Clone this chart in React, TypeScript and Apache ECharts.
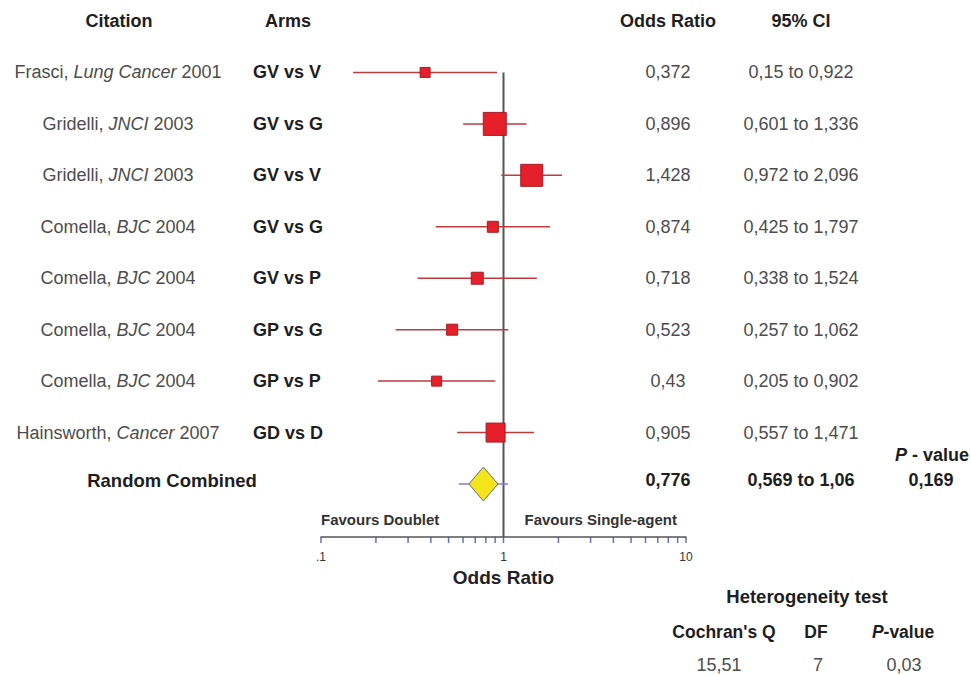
import React, { useEffect, useRef } from "react";
import * as echarts from "echarts";

// ---- data ----
const authors = ["Frasci", "Gridelli", "Gridelli", "Comella", "Comella", "Comella", "Comella", "Hainsworth"];
const journals = ["Lung Cancer", "JNCI", "JNCI", "BJC", "BJC", "BJC", "BJC", "Cancer"];
const years = ["2001", "2003", "2003", "2004", "2004", "2004", "2004", "2007"];
const arms = ["GV vs V", "GV vs G", "GV vs V", "GV vs G", "GV vs P", "GP vs G", "GP vs P", "GD vs D"];
const oddsRatios = [0.372, 0.896, 1.428, 0.874, 0.718, 0.523, 0.43, 0.905];
const ciLower = [0.15, 0.601, 0.972, 0.425, 0.338, 0.257, 0.205, 0.557];
const ciUpper = [0.922, 1.336, 2.096, 1.797, 1.524, 1.062, 0.902, 1.471];
const studyWeights = [10, 23, 22, 11, 12, 11, 10, 19];

const combinedLabel = "Random Combined";
const combinedOR = [0.776];
const combinedLower = [0.569];
const combinedUpper = [1.06];
const combinedP = [0.169];

const axisTickValues = [0.1, 0.2, 0.3, 0.4, 0.5, 0.6, 0.7, 0.8, 0.9, 1, 2, 3, 4, 5, 6, 7, 8, 9, 10];

const hetHeaders = ["Cochran's Q", "DF", "P-value"];
const hetValues = [15.51, 7, 0.03];

// ---- layout ----
const FONT = "'Liberation Sans', Arial, sans-serif";
const Y_MAX = 9.03;
const COL_CIT = 118;
const COL_ARMS = 253;
const COL_OR = 668;
const COL_CI = 801;
const COL_P = 931;
const GRAY = "#4d4d4d";
const DARK = "#1e1e1e";

const fmt = (v: number) => String(v).replace(".", ",");

export default function App() {
  const ref = useRef<HTMLDivElement>(null);

  useEffect(() => {
    if (!ref.current) return;
    const chart = echarts.init(ref.current, null, { renderer: "svg" });

    const studyData = oddsRatios.map((or, i) => [i, or, ciLower[i], ciUpper[i], studyWeights[i]]);
    const combinedData = combinedOR.map((or, i) => [authors.length + i, or, combinedLower[i], combinedUpper[i], combinedP[i]]);

    const option: any = {
      animation: false,
      backgroundColor: "#ffffff",
      grid: { left: 321, right: 285, top: 21, bottom: 138, containLabel: false },
      xAxis: {
        type: "log",
        logBase: 10,
        min: 0.1,
        max: 10,
        name: "Odds Ratio",
        nameLocation: "middle",
        nameGap: 31,
        nameTextStyle: { fontFamily: FONT, fontSize: 19, fontWeight: "bold", color: "#222" },
        axisLine: { show: true, onZero: false, lineStyle: { color: "#555", width: 1.5 } },
        axisTick: { show: false },
        splitLine: { show: false },
        minorTick: { show: false },
        axisLabel: {
          margin: 14,
          fontFamily: FONT,
          fontSize: 12,
          color: "#333",
          formatter: (v: number) => (v < 0.5 ? ".1" : String(Math.round(v))),
        },
      },
      yAxis: { type: "value", inverse: true, min: -1, max: Y_MAX, show: false },
      graphic: [
        { type: "text", x: 119, y: 21, style: { text: "Citation", align: "center", verticalAlign: "middle", font: `bold 18px ${FONT}`, fill: DARK } },
        { type: "text", x: 288, y: 21, style: { text: "Arms", align: "center", verticalAlign: "middle", font: `bold 18px ${FONT}`, fill: DARK } },
        { type: "text", x: COL_OR, y: 21, style: { text: "Odds Ratio", align: "center", verticalAlign: "middle", font: `bold 18px ${FONT}`, fill: DARK } },
        { type: "text", x: COL_CI, y: 21, style: { text: "95% CI", align: "center", verticalAlign: "middle", font: `bold 18px ${FONT}`, fill: DARK } },
        {
          type: "text", x: 932, y: 455,
          style: {
            text: "{i|P}{b| - value}", align: "center", verticalAlign: "middle",
            rich: {
              i: { font: `italic bold 18px ${FONT}`, fill: DARK },
              b: { font: `bold 18px ${FONT}`, fill: DARK },
            },
          },
        },
        { type: "text", x: 321, y: 519, style: { text: "Favours Doublet", align: "left", verticalAlign: "middle", font: `bold 15px ${FONT}`, fill: "#333" } },
        { type: "text", x: 677, y: 519, style: { text: "Favours Single-agent", align: "right", verticalAlign: "middle", font: `bold 15px ${FONT}`, fill: "#333" } },
        { type: "text", x: 807, y: 596, style: { text: "Heterogeneity test", align: "center", verticalAlign: "middle", font: `bold 18.5px ${FONT}`, fill: DARK } },
        { type: "text", x: 724, y: 632, style: { text: hetHeaders[0], align: "center", verticalAlign: "middle", font: `bold 17.5px ${FONT}`, fill: DARK } },
        { type: "text", x: 816, y: 632, style: { text: hetHeaders[1], align: "center", verticalAlign: "middle", font: `bold 17.5px ${FONT}`, fill: DARK } },
        {
          type: "text", x: 903, y: 632,
          style: {
            text: "{i|P}{b|-value}", align: "center", verticalAlign: "middle",
            rich: {
              i: { font: `italic bold 17.5px ${FONT}`, fill: DARK },
              b: { font: `bold 17.5px ${FONT}`, fill: DARK },
            },
          },
        },
        { type: "text", x: 719, y: 665, style: { text: fmt(hetValues[0]), align: "center", verticalAlign: "middle", font: `18px ${FONT}`, fill: GRAY } },
        { type: "text", x: 818, y: 665, style: { text: fmt(hetValues[1]), align: "center", verticalAlign: "middle", font: `18px ${FONT}`, fill: GRAY } },
        { type: "text", x: 904, y: 665, style: { text: fmt(hetValues[2]), align: "center", verticalAlign: "middle", font: `18px ${FONT}`, fill: GRAY } },
      ],
      series: [
        {
          type: "line",
          data: [[1, 0], [1, Y_MAX]],
          symbol: "none",
          lineStyle: { color: "#555", width: 2 },
          z: 1,
        },
        {
          type: "scatter",
          data: axisTickValues.map((v) => [v, Y_MAX]),
          symbol: "rect",
          symbolSize: [1.5, 6],
          symbolOffset: [0, 3],
          itemStyle: { color: "#3c4fa6" },
          clip: false,
          z: 3,
        },
        {
          type: "custom",
          clip: false,
          z: 4,
          encode: { x: 1, y: 0 },
          data: studyData,
          renderItem: (params: any, api: any) => {
            const idx = params.dataIndex;
            const row = api.value(0);
            const or = api.value(1);
            const lo = api.value(2);
            const hi = api.value(3);
            const w = api.value(4);
            const c = api.coord([or, row]);
            const l = api.coord([lo, row]);
            const h = api.coord([hi, row]);
            const y = c[1];
            return {
              type: "group",
              children: [
                { type: "line", shape: { x1: l[0], y1: y, x2: h[0], y2: y }, style: { stroke: "#be3a3e", lineWidth: 1.5 } },
                { type: "rect", shape: { x: c[0] - w / 2, y: y - w / 2, width: w, height: w }, style: { fill: "#e5202a", stroke: "#a51d22", lineWidth: 1 } },
                {
                  type: "text", x: COL_CIT, y,
                  style: {
                    text: `{n|${authors[idx]}, }{i|${journals[idx]}}{n| ${years[idx]}}`,
                    align: "center", verticalAlign: "middle",
                    rich: {
                      n: { font: `18px ${FONT}`, fill: GRAY },
                      i: { font: `italic 18px ${FONT}`, fill: GRAY },
                    },
                  },
                },
                { type: "text", x: COL_ARMS, y, style: { text: arms[idx], align: "left", verticalAlign: "middle", font: `bold 18px ${FONT}`, fill: DARK } },
                { type: "text", x: COL_OR, y, style: { text: fmt(or), align: "center", verticalAlign: "middle", font: `18px ${FONT}`, fill: GRAY } },
                { type: "text", x: COL_CI, y, style: { text: `${fmt(lo)} to ${fmt(hi)}`, align: "center", verticalAlign: "middle", font: `18px ${FONT}`, fill: GRAY } },
              ],
            };
          },
        },
        {
          type: "custom",
          clip: false,
          z: 4,
          encode: { x: 1, y: 0 },
          data: combinedData,
          renderItem: (params: any, api: any) => {
            const row = api.value(0);
            const or = api.value(1);
            const lo = api.value(2);
            const hi = api.value(3);
            const p = api.value(4);
            const c = api.coord([or, row]);
            const l = api.coord([lo, row]);
            const h = api.coord([hi, row]);
            const y = c[1];
            const hw = 14.5;
            const hh = 17;
            return {
              type: "group",
              children: [
                { type: "line", shape: { x1: l[0], y1: y, x2: h[0], y2: y }, style: { stroke: "#7c80d6", lineWidth: 1.5 } },
                {
                  type: "polygon",
                  shape: { points: [[c[0], y - hh], [c[0] + hw, y], [c[0], y + hh], [c[0] - hw, y]] },
                  style: { fill: "#f4e51a", stroke: "#6b6b78", lineWidth: 1 },
                },
                { type: "text", x: 172, y: y - 4, style: { text: combinedLabel, align: "center", verticalAlign: "middle", font: `bold 18.5px ${FONT}`, fill: DARK } },
                { type: "text", x: COL_OR, y: y - 4, style: { text: fmt(or), align: "center", verticalAlign: "middle", font: `bold 18px ${FONT}`, fill: DARK } },
                { type: "text", x: COL_CI, y: y - 4, style: { text: `${fmt(lo)} to ${fmt(hi)}`, align: "center", verticalAlign: "middle", font: `bold 18px ${FONT}`, fill: DARK } },
                { type: "text", x: COL_P, y: y - 4, style: { text: fmt(p), align: "center", verticalAlign: "middle", font: `bold 18px ${FONT}`, fill: DARK } },
              ],
            };
          },
        },
      ],
    };

    chart.setOption(option);
    return () => chart.dispose();
  }, []);

  return <div ref={ref} style={{ position: "fixed", left: 0, top: 0, width: 971, height: 675 }} />;
}
